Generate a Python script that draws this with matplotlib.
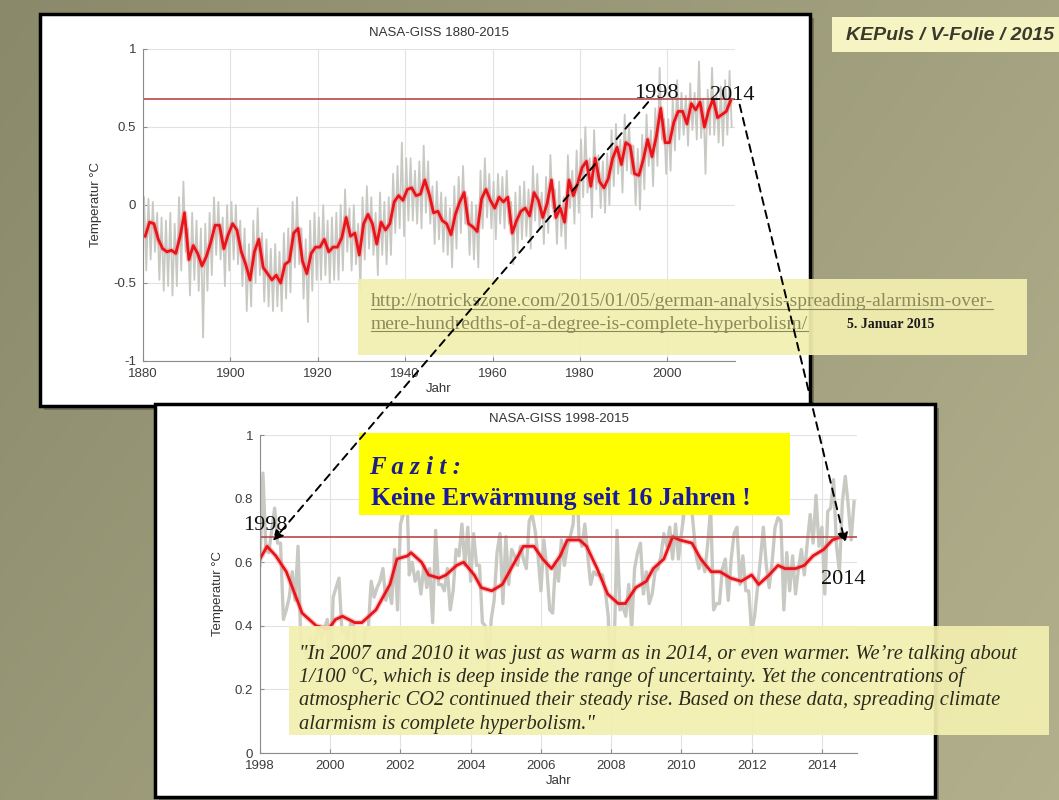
import numpy as np
import matplotlib
matplotlib.use('Agg')
import matplotlib.pyplot as plt
from matplotlib.patches import Rectangle

SANS = ['Liberation Sans', 'DejaVu Sans']
SERIF = ['Liberation Serif', 'DejaVu Serif']
plt.rcParams['font.family'] = SANS

# NASA-GISS 1880-2015, Jahreswerte
years_top = list(range(1880, 2015))
red_top = [-0.20, -0.11, -0.12, -0.22, -0.28, -0.30, -0.29, -0.31, -0.20, -0.05,
           -0.35, -0.26, -0.31, -0.39, -0.33, -0.24, -0.13, -0.13, -0.28, -0.19,
           -0.12, -0.16, -0.30, -0.38, -0.48, -0.30, -0.22, -0.40, -0.44, -0.48,
           -0.45, -0.50, -0.38, -0.36, -0.18, -0.15, -0.36, -0.44, -0.31, -0.27,
           -0.27, -0.22, -0.30, -0.27, -0.27, -0.21, -0.08, -0.20, -0.18, -0.32,
           -0.12, -0.06, -0.12, -0.25, -0.11, -0.16, -0.12, 0.02, 0.06, 0.03,
           0.10, 0.11, 0.06, 0.07, 0.16, 0.07, -0.05, -0.04, -0.10, -0.12,
           -0.19, -0.06, 0.02, 0.08, -0.12, -0.14, -0.17, 0.04, 0.10, 0.03,
           -0.02, 0.05, 0.02, 0.05, -0.18, -0.10, -0.04, -0.02, -0.07, 0.08,
           0.03, -0.08, 0.01, 0.16, -0.08, -0.02, -0.11, 0.16, 0.06, 0.14,
           0.24, 0.28, 0.12, 0.30, 0.15, 0.11, 0.17, 0.30, 0.37, 0.26,
           0.40, 0.38, 0.20, 0.19, 0.29, 0.42, 0.31, 0.44, 0.62, 0.40,
           0.40, 0.53, 0.60, 0.60, 0.52, 0.65, 0.61, 0.66, 0.50, 0.61,
           0.68, 0.56, 0.58, 0.60, 0.67]
# Monatsextreme je Jahr (graue Kurve)
hi_top = [0.05, 0.04, 0.02, -0.05, -0.08, -0.10, -0.05, -0.12, 0.05, 0.15,
          -0.15, -0.05, -0.10, -0.15, -0.12, -0.05, 0.05, 0.02, -0.08, 0.00,
          0.02, 0.00, -0.10, -0.15, -0.25, -0.10, -0.02, -0.18, -0.22, -0.28,
          -0.25, -0.30, -0.18, -0.15, 0.02, 0.05, -0.15, -0.22, -0.10, -0.05,
          -0.08, 0.00, -0.10, -0.08, -0.05, 0.00, 0.10, -0.02, 0.00, -0.12,
          0.05, 0.12, 0.05, -0.05, 0.08, 0.02, 0.05, 0.20, 0.25, 0.40,
          0.30, 0.30, 0.22, 0.28, 0.38, 0.28, 0.12, 0.15, 0.08, 0.05,
          -0.02, 0.12, 0.18, 0.25, 0.05, 0.02, 0.00, 0.22, 0.30, 0.20,
          0.15, 0.20, 0.18, 0.22, 0.02, 0.08, 0.12, 0.15, 0.10, 0.25,
          0.20, 0.08, 0.18, 0.32, 0.10, 0.15, 0.05, 0.32, 0.22, 0.35,
          0.42, 0.50, 0.30, 0.48, 0.32, 0.28, 0.33, 0.48, 0.52, 0.42,
          0.58, 0.52, 0.38, 0.36, 0.45, 0.58, 0.48, 0.62, 0.88, 0.55,
          0.55, 0.68, 0.80, 0.72, 0.70, 0.78, 0.72, 0.92, 0.68, 0.74,
          0.88, 0.72, 0.76, 0.80, 0.86]
lo_top = [-0.42, -0.35, -0.30, -0.48, -0.55, -0.52, -0.58, -0.52, -0.42, -0.30,
          -0.58, -0.48, -0.55, -0.85, -0.55, -0.45, -0.32, -0.35, -0.52, -0.42,
          -0.35, -0.38, -0.52, -0.68, -0.65, -0.50, -0.45, -0.62, -0.65, -0.68,
          -0.65, -0.68, -0.60, -0.56, -0.40, -0.38, -0.60, -0.75, -0.55, -0.48,
          -0.48, -0.45, -0.50, -0.48, -0.48, -0.42, -0.30, -0.42, -0.38, -0.55,
          -0.35, -0.28, -0.32, -0.45, -0.32, -0.38, -0.32, -0.18, -0.15, -0.20,
          -0.10, -0.10, -0.12, -0.15, -0.05, -0.12, -0.25, -0.22, -0.30, -0.32,
          -0.40, -0.28, -0.18, -0.12, -0.32, -0.35, -0.40, -0.15, -0.08, -0.15,
          -0.22, -0.12, -0.15, -0.12, -0.38, -0.30, -0.22, -0.20, -0.28, -0.10,
          -0.15, -0.25, -0.18, -0.02, -0.25, -0.20, -0.28, -0.02, -0.12, -0.05,
          0.05, 0.08, -0.08, 0.10, -0.02, -0.05, 0.00, 0.12, 0.20, 0.08,
          0.22, 0.20, 0.00, -0.03, 0.10, 0.25, 0.12, 0.25, 0.42, 0.20,
          0.22, 0.35, 0.42, 0.45, 0.38, 0.48, 0.42, 0.43, 0.20, 0.45,
          0.45, 0.40, 0.38, 0.45, 0.50]
ref_level = 0.68

# NASA-GISS 1998-2015, Monatswerte (grau) und geglaettet (rot)
gray_low = [0.59, 0.88, 0.64, 0.63, 0.70, 0.77, 0.66, 0.66, 0.42, 0.45, 0.49, 0.57,
            0.48, 0.65, 0.33, 0.34, 0.29, 0.36, 0.33, 0.36, 0.39, 0.36, 0.39, 0.42,
            0.22, 0.49, 0.52, 0.55, 0.38, 0.39, 0.36, 0.41, 0.40, 0.25, 0.30, 0.26,
            0.39, 0.39, 0.54, 0.49, 0.52, 0.54, 0.58, 0.48, 0.52, 0.47, 0.64, 0.45,
            0.72, 0.75, 0.88, 0.56, 0.60, 0.54, 0.57, 0.50, 0.59, 0.52, 0.58, 0.41,
            0.70, 0.53, 0.53, 0.51, 0.58, 0.45, 0.51, 0.64, 0.62, 0.72, 0.59, 0.71,
            0.54, 0.69, 0.59, 0.59, 0.41, 0.40, 0.26, 0.42, 0.48, 0.63, 0.69, 0.47,
            0.68, 0.53, 0.64, 0.62, 0.59, 0.65, 0.61, 0.58, 0.73, 0.75, 0.70, 0.62,
            0.51, 0.67, 0.58, 0.45, 0.44, 0.60, 0.54, 0.67, 0.59, 0.65, 0.68, 0.72,
            0.94, 0.68, 0.65, 0.72, 0.62, 0.53, 0.57, 0.56, 0.56, 0.56, 0.51, 0.43,
            0.20, 0.32, 0.70, 0.45, 0.46, 0.43, 0.53, 0.39, 0.58, 0.63, 0.66, 0.50,
            0.57, 0.47, 0.50, 0.57, 0.58, 0.62, 0.69, 0.65, 0.71, 0.61, 0.72, 0.61,
            0.69, 0.76, 0.89, 0.82, 0.72, 0.62, 0.58, 0.61, 0.57, 0.66, 0.77, 0.45,
            0.47, 0.47, 0.58, 0.61, 0.48, 0.61, 0.69, 0.71, 0.53, 0.62, 0.51, 0.51,
            0.38, 0.43, 0.52, 0.61, 0.71, 0.59, 0.52, 0.60, 0.71, 0.74, 0.73, 0.45,
            0.63, 0.51, 0.62, 0.50, 0.58, 0.64, 0.56, 0.66, 0.75, 0.66, 0.81, 0.65,
            0.71, 0.50, 0.76, 0.77, 0.86, 0.65, 0.57, 0.79, 0.87, 0.78, 0.67, 0.79]
red_low_x = [1998.0, 1998.2, 1998.45, 1998.75, 1999.2, 1999.6, 1999.95, 2000.15,
             2000.35, 2000.7, 2000.9, 2001.3, 2001.7, 2001.9, 2002.2, 2002.3,
             2002.6, 2002.8, 2003.1, 2003.3, 2003.6, 2003.8, 2004.1, 2004.3,
             2004.6, 2004.9, 2005.2, 2005.5, 2005.8, 2006.05, 2006.3, 2006.55,
             2006.75, 2007.1, 2007.3, 2007.6, 2007.9, 2008.2, 2008.4, 2008.7,
             2009.0, 2009.2, 2009.5, 2009.75, 2009.95, 2010.3, 2010.55, 2010.85,
             2011.1, 2011.4, 2011.7, 2012.0, 2012.2, 2012.5, 2012.75, 2012.95,
             2013.25, 2013.5, 2013.75, 2014.05, 2014.3, 2014.55]
red_low_y = [0.61, 0.65, 0.62, 0.57, 0.44, 0.40, 0.39, 0.42,
             0.43, 0.41, 0.41, 0.45, 0.53, 0.61, 0.62, 0.63,
             0.60, 0.56, 0.55, 0.56, 0.59, 0.60, 0.56, 0.52,
             0.51, 0.53, 0.59, 0.65, 0.65, 0.61, 0.58, 0.62,
             0.67, 0.67, 0.65, 0.58, 0.50, 0.47, 0.47, 0.52,
             0.54, 0.58, 0.61, 0.68, 0.67, 0.66, 0.61, 0.57,
             0.57, 0.55, 0.54, 0.56, 0.53, 0.56, 0.59, 0.58,
             0.58, 0.59, 0.62, 0.64, 0.67, 0.68]

top_xticks = [1880, 1900, 1920, 1940, 1960, 1980, 2000]
top_yticks = [-1, -0.5, 0, 0.5, 1]
top_yticklabels = ['-1', '-0.5', '0', '0.5', '1']
low_xticks = list(range(1998, 2015, 2))
low_yticks = [0, 0.2, 0.4, 0.6, 0.8, 1]
low_yticklabels = ['0', '0.2', '0.4', '0.6', '0.8', '1']

quote_lines = ['"In 2007 and 2010 it was just as warm as in 2014, or even warmer. We\u2019re talking about',
               '1/100 \u00b0C, which is deep inside the range of uncertainty. Yet the concentrations of',
               'atmospheric CO2 continued their steady rise. Based on these data, spreading climate',
               'alarmism is complete hyperbolism."']
url_lines = ['http://notrickszone.com/2015/01/05/german-analysis-spreading-alarmism-over-',
             'mere-hundredths-of-a-degree-is-complete-hyperbolism/']

W, H = 1059, 800


def px_rect(x0, y0, x1, y1):
    return [x0 / W, 1 - y1 / H, (x1 - x0) / W, (y1 - y0) / H]


def full_axes(z):
    a = fig.add_axes([0, 0, 1, 1], zorder=z)
    a.set_xlim(0, W)
    a.set_ylim(H, 0)
    a.axis('off')
    return a


def style(ax):
    for s in ['top', 'right']:
        ax.spines[s].set_visible(False)
    for s in ['left', 'bottom']:
        ax.spines[s].set_color('#8c8c8c')
        ax.spines[s].set_linewidth(0.8)
    ax.tick_params(direction='in', length=3, color='#8c8c8c', labelsize=9.5,
                   labelcolor='#3c3c3c', pad=5)
    ax.grid(True, color='#e2e2e2', lw=0.8)
    ax.set_axisbelow(True)
    ax.patch.set_alpha(0)


fig = plt.figure(figsize=(W / 100, H / 100), dpi=100)

# Hintergrund der Folie
bg = full_axes(0)
xx = np.linspace(0, 1, W)[None, :]
yy = np.linspace(0, 1, H)[:, None]
t = 0.65 * xx + 0.35 * yy
c0 = np.array([0.54, 0.54, 0.42])
c1 = np.array([0.70, 0.69, 0.55])
bg.imshow(c0 + (c1 - c0) * t[..., None], extent=(0, W, H, 0), aspect='auto')
bg.add_patch(Rectangle((44, 18), 770, 392, fc='#4a4a3a', ec='none', alpha=0.5))
bg.add_patch(Rectangle((40, 14), 770, 392, fc='white', ec='black', lw=2.5))

# oberes Diagramm
ax1 = fig.add_axes(px_rect(143, 49, 735, 361), zorder=1)
style(ax1)
gx, gy = [], []
for y, h, l in zip(years_top, hi_top, lo_top):
    gx += [y + 0.25, y + 0.75]
    gy += [h, l]
ax1.plot(gx, gy, color='#c9c9c4', lw=1.3)
ax1.plot(np.array(years_top) + 0.5, red_top, color='#f08080', lw=4, alpha=0.4)
ax1.plot(np.array(years_top) + 0.5, red_top, color='#e8141a', lw=2)
ax1.axhline(ref_level, color='#b84848', lw=1.2)
ax1.set_xlim(1880, 2015.5)
ax1.set_ylim(-1, 1)
ax1.set_xticks(top_xticks)
ax1.set_yticks(top_yticks)
ax1.set_yticklabels(top_yticklabels)
ax1.set_title('NASA-GISS 1880-2015', fontsize=9.5, color='#333333', pad=9)
ax1.set_xlabel('Jahr', fontsize=9.5, color='#333333', labelpad=2)
ax1.set_ylabel('Temperatur \u00b0C', fontsize=9.5, color='#333333', labelpad=8)

# Rahmen unten
mid = full_axes(2)
mid.add_patch(Rectangle((159, 408), 780, 393, fc='#4a4a3a', ec='none', alpha=0.5))
mid.add_patch(Rectangle((155, 404), 780, 393, fc='white', ec='black', lw=2.5))

# unteres Diagramm
ax2 = fig.add_axes(px_rect(260, 435, 857, 753), zorder=3)
style(ax2)
months = 1998 + np.arange(len(gray_low)) / 12
ax2.plot(months, gray_low, color='#c9c9c4', lw=2.4)
ax2.plot(red_low_x, red_low_y, color='#f08080', lw=4, alpha=0.4)
ax2.plot(red_low_x, red_low_y, color='#e8141a', lw=2)
ax2.axhline(ref_level, color='#b84848', lw=1.2)
ax2.set_xlim(1998, 2015)
ax2.set_ylim(0, 1)
ax2.set_xticks(low_xticks)
ax2.set_yticks(low_yticks)
ax2.set_yticklabels(low_yticklabels)
ax2.set_title('NASA-GISS 1998-2015', fontsize=9.5, color='#333333', pad=9)
ax2.set_xlabel('Jahr', fontsize=9.5, color='#333333', labelpad=2)
ax2.set_ylabel('Temperatur \u00b0C', fontsize=9.5, color='#333333', labelpad=8)

# Textkaesten, Beschriftungen, Pfeile
ov = full_axes(5)
ov.add_patch(Rectangle((832, 17), 240, 35, fc='#f6f4c2', ec='none'))
ov.text(846, 35, 'KEPuls / V-Folie / 2015', fontsize=14, style='italic',
        weight='bold', color='#3a3a2c', va='center', ha='left')

ov.add_patch(Rectangle((358, 279), 669, 76, fc='#f3efb0', ec='none', alpha=0.93))
url_txt = []
for i, line in enumerate(url_lines):
    url_txt.append(ov.text(371, 302 + 22 * i, line, family=SERIF, fontsize=14,
                           color='#8c8a5a', va='center', ha='left'))
ov.text(847, 324, '5. Januar 2015', family=SERIF, fontsize=10, weight='bold',
        color='#1a1a1a', va='center', ha='left')

ov.add_patch(Rectangle((359, 433), 431, 82, fc='#ffff00', ec='none'))
ov.text(369, 467, 'F a z i t :', family=SERIF, fontsize=18, weight='bold',
        style='italic', color='#1c1c8a', va='center', ha='left')
ov.text(371, 498, 'Keine Erw\u00e4rmung seit 16 Jahren !', family=SERIF, fontsize=18.5,
        weight='bold', color='#1a1aa0', va='center', ha='left')

ov.add_patch(Rectangle((289, 626), 760, 109, fc='#f3efb0', ec='none', alpha=0.93))
for i, line in enumerate(quote_lines):
    ov.text(299, 654 + 23.5 * i, line, family=SERIF, fontsize=14.8, style='italic',
            color='#2b2b1e', va='center', ha='left')

ov.text(656, 93, '1998', family=SERIF, fontsize=16, color='#111111', ha='center', va='center')
ov.text(732, 95, '2014', family=SERIF, fontsize=16, color='#111111', ha='center', va='center')
ov.text(265, 526, '1998', family=SERIF, fontsize=16, color='#111111', ha='center', va='center')
ov.text(843, 579, '2014', family=SERIF, fontsize=16, color='#111111', ha='center', va='center')

arrow_kw = dict(arrowstyle='-|>,head_length=0.6,head_width=0.3', color='black',
                lw=1.4, ls=(0, (4, 3)))
ov.annotate('', xy=(271, 543), xytext=(650, 100), arrowprops=arrow_kw)
ov.annotate('', xy=(846, 546), xytext=(739, 102), arrowprops=arrow_kw)

# Unterstreichung der URL
fig.canvas.draw()
inv = ov.transData.inverted()
for txt in url_txt:
    bb = txt.get_window_extent()
    (x0, y0), (x1, y1) = inv.transform([[bb.x0, bb.y0], [bb.x1, bb.y1]])
    ov.plot([x0, x1], [y0 - 2, y0 - 2], color='#8c8a5a', lw=0.8)

fig.savefig('out.png', dpi=100)
